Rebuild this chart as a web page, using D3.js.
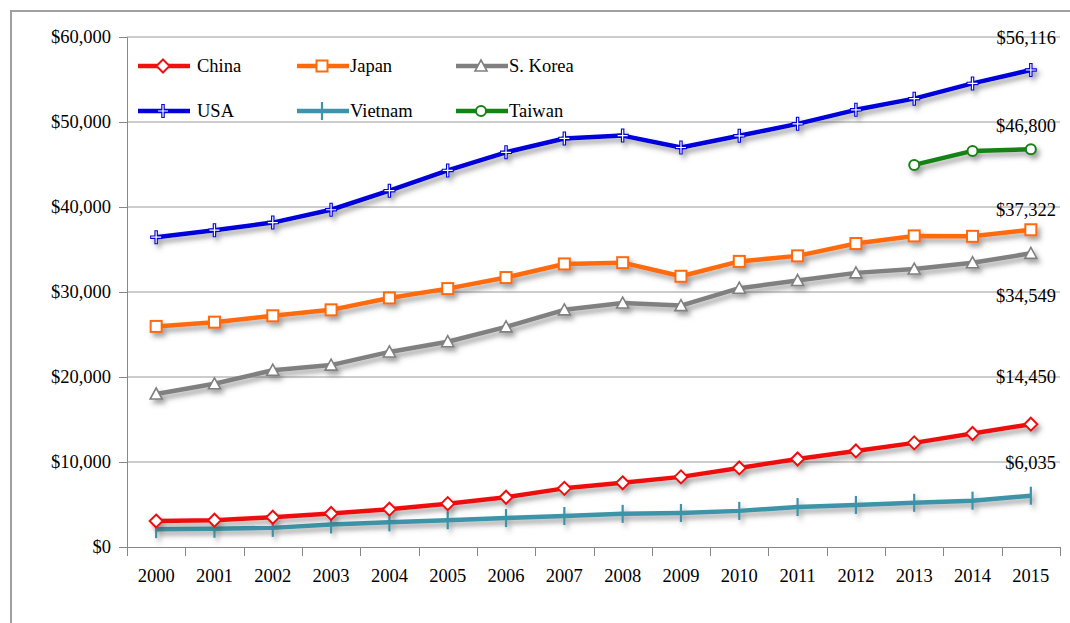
<!DOCTYPE html>
<html>
<head>
<meta charset="utf-8">
<script src="https://cdn.jsdelivr.net/npm/d3@7"></script>
<style>
  body { margin: 0; background: #fff; }
  svg { display: block; }
</style>
</head>
<body>
<div id="chart"></div>
<script>
(function() {
  var width = 1070,
      height = 623,
      font = "Liberation Serif",
      fontSize = 18.5;

  // years on the x axis
  var years = ["2000", "2001", "2002", "2003", "2004", "2005", "2006", "2007",
               "2008", "2009", "2010", "2011", "2012", "2013", "2014", "2015"];

  // GDP per capita
  var china   = [3050, 3150, 3500, 3950, 4450, 5100, 5850, 6900, 7550, 8250, 9300, 10350, 11300, 12250, 13350, 14450];
  var japan   = [25950, 26450, 27200, 27900, 29300, 30400, 31700, 33300, 33450, 31850, 33600, 34250, 35700, 36600, 36550, 37322];
  var korea   = [18000, 19200, 20800, 21400, 22950, 24150, 25900, 27900, 28700, 28400, 30450, 31350, 32250, 32700, 33450, 34549];
  var usa     = [36450, 37274, 38166, 39677, 41922, 44308, 46437, 48062, 48401, 47002, 48374, 49782, 51433, 52750, 54540, 56116];
  var vietnam = [2100, 2150, 2250, 2650, 2900, 3150, 3400, 3650, 3900, 4000, 4250, 4700, 4950, 5200, 5450, 6035];
  var taiwan  = [null, null, null, null, null, null, null, null, null, null, null, null, null, 44950, 46600, 46800];

  var yTicks = [0, 10000, 20000, 30000, 40000, 50000, 60000];

  var series = [
    {name: "China",    values: china,   color: "#ee1111", marker: "diamond",  labelDy: -48},
    {name: "Japan",    values: japan,   color: "#ff6a0a", marker: "square",   labelDy: -20},
    {name: "S. Korea", values: korea,   color: "#808080", marker: "triangle", labelDy: 42},
    {name: "USA",      values: usa,     color: "#0000dd", marker: "plus",     labelDy: -32},
    {name: "Vietnam",  values: vietnam, color: "#3d93a8", marker: "vbar",     labelDy: -33},
    {name: "Taiwan",   values: taiwan,  color: "#148214", marker: "circle",   labelDy: -24}
  ];

  var fmt = d3.format("$,.0f");

  var svg = d3.select("#chart").append("svg")
      .attr("width", width)
      .attr("height", height)
      .attr("font-family", font);

  var defs = svg.append("defs");
  defs.append("filter")
      .attr("id", "shadow")
      .attr("x", "-10%").attr("y", "-50%")
      .attr("width", "120%").attr("height", "200%")
    .append("feDropShadow")
      .attr("dx", 3).attr("dy", 4)
      .attr("stdDeviation", 2.5)
      .attr("flood-color", "#444")
      .attr("flood-opacity", 0.5);

  // outer frame
  svg.append("rect")
      .attr("x", 11).attr("y", 11)
      .attr("width", width + 20).attr("height", height + 20)
      .attr("fill", "none")
      .attr("stroke", "#a0a0a0")
      .attr("stroke-width", 2);

  var x = d3.scaleBand().domain(years).range([127, 1060]).padding(0);
  var y = d3.scaleLinear().domain([0, 60000]).range([547, 37]);
  var cx = function(yr) { return x(yr) + x.bandwidth() / 2; };

  // gridlines
  svg.append("g").selectAll("line")
    .data(yTicks.filter(function(d) { return d > 0; }))
    .enter().append("line")
      .attr("x1", 127).attr("x2", 1060)
      .attr("y1", function(d) { return y(d); })
      .attr("y2", function(d) { return y(d); })
      .attr("stroke", "#9a9a9a")
      .attr("stroke-width", 1);

  // y axis
  var yAxis = svg.append("g")
      .attr("transform", "translate(127,0)")
      .call(d3.axisLeft(y).tickValues(yTicks).tickFormat(fmt).tickSize(8).tickPadding(8))
      .attr("font-family", font)
      .attr("font-size", fontSize);
  yAxis.select(".domain").attr("stroke", "#888");
  yAxis.selectAll(".tick line").attr("stroke", "#888");
  yAxis.selectAll("text").attr("fill", "#000");

  // x axis: labels at band centres, ticks at band edges
  var xAxis = svg.append("g")
      .attr("transform", "translate(0,547)")
      .call(d3.axisBottom(x).tickSize(0).tickPadding(22))
      .attr("font-family", font)
      .attr("font-size", fontSize);
  xAxis.select(".domain").attr("stroke", "#888").attr("d", "M127,0.5H1060");
  xAxis.selectAll("text").attr("fill", "#000");
  xAxis.selectAll(".edge")
    .data(years.map(function(d) { return x(d); }).concat([x.range()[1]]))
    .enter().append("line")
      .attr("class", "edge")
      .attr("x1", function(d) { return Math.round(d) + 0.5; })
      .attr("x2", function(d) { return Math.round(d) + 0.5; })
      .attr("y1", 0).attr("y2", 9)
      .attr("stroke", "#888");

  var drawMarker = function(g, type, color, px, py) {
    if (type === "diamond") {
      g.append("path")
        .attr("d", "M" + px + "," + (py - 6.5) + "L" + (px + 6.5) + "," + py + "L" + px + "," + (py + 6.5) + "L" + (px - 6.5) + "," + py + "Z")
        .attr("fill", "#fff").attr("stroke", color).attr("stroke-width", 2);
    } else if (type === "square") {
      g.append("rect")
        .attr("x", px - 5.5).attr("y", py - 5.5).attr("width", 11).attr("height", 11)
        .attr("fill", "#fff").attr("stroke", color).attr("stroke-width", 2);
    } else if (type === "triangle") {
      g.append("path")
        .attr("d", "M" + px + "," + (py - 6) + "L" + (px + 6) + "," + (py + 5) + "L" + (px - 6) + "," + (py + 5) + "Z")
        .attr("fill", "#fff").attr("stroke", color).attr("stroke-width", 1.6);
    } else if (type === "circle") {
      g.append("circle")
        .attr("cx", px).attr("cy", py).attr("r", 5)
        .attr("fill", "#fff").attr("stroke", color).attr("stroke-width", 2);
    } else if (type === "plus") {
      g.append("path")
        .attr("d", "M" + (px - 6) + "," + py + "H" + (px + 6) + "M" + px + "," + (py - 7) + "V" + (py + 7))
        .attr("stroke", color).attr("stroke-width", 3.5);
      g.append("path")
        .attr("d", "M" + (px - 5) + "," + py + "H" + (px + 5) + "M" + px + "," + (py - 6) + "V" + (py + 6))
        .attr("stroke", "#fff").attr("stroke-width", 1.2);
    } else if (type === "vbar") {
      g.append("path")
        .attr("d", "M" + px + "," + (py - 9) + "V" + (py + 9))
        .attr("stroke", color).attr("stroke-width", 2.2);
    }
  };

  var line = d3.line()
      .defined(function(d) { return d.v !== null; })
      .x(function(d) { return cx(d.yr); })
      .y(function(d) { return y(d.v); });

  // draw order: bottom series first
  var order = ["Vietnam", "China", "S. Korea", "Japan", "Taiwan", "USA"];
  order.forEach(function(name) {
    var s = series.filter(function(d) { return d.name === name; })[0];
    var pts = years.map(function(yr, i) { return {yr: yr, v: s.values[i]}; });
    var g = svg.append("g").attr("filter", "url(#shadow)");
    g.append("path")
      .datum(pts)
      .attr("d", line)
      .attr("fill", "none")
      .attr("stroke", s.color)
      .attr("stroke-width", 4.5)
      .attr("stroke-linejoin", "round");
    pts.filter(function(d) { return d.v !== null; }).forEach(function(d) {
      drawMarker(g, s.marker, s.color, cx(d.yr), y(d.v));
    });
  });

  // end value labels
  series.forEach(function(s) {
    var last = s.values[s.values.length - 1];
    svg.append("text")
      .attr("x", 1056)
      .attr("y", y(last) + s.labelDy)
      .attr("dy", "0.35em")
      .attr("text-anchor", "end")
      .attr("font-size", fontSize)
      .attr("fill", "#000")
      .text(fmt(last));
  });

  // legend, 3 columns x 2 rows
  var legCols = [138, 297, 456],
      legRows = [66, 111];
  series.forEach(function(s, i) {
    var lx = legCols[i % 3],
        ly = legRows[Math.floor(i / 3)];
    var g = svg.append("g");
    g.append("line")
      .attr("x1", lx).attr("x2", lx + 52)
      .attr("y1", ly).attr("y2", ly)
      .attr("stroke", s.color).attr("stroke-width", 4.5);
    drawMarker(g, s.marker, s.color, lx + 25, ly);
    g.append("text")
      .attr("x", lx + (i % 3 === 0 ? 59 : 53))
      .attr("y", ly)
      .attr("dy", "0.35em")
      .attr("font-size", fontSize)
      .attr("fill", "#000")
      .text(s.name);
  });
})();
</script>
</body>
</html>
